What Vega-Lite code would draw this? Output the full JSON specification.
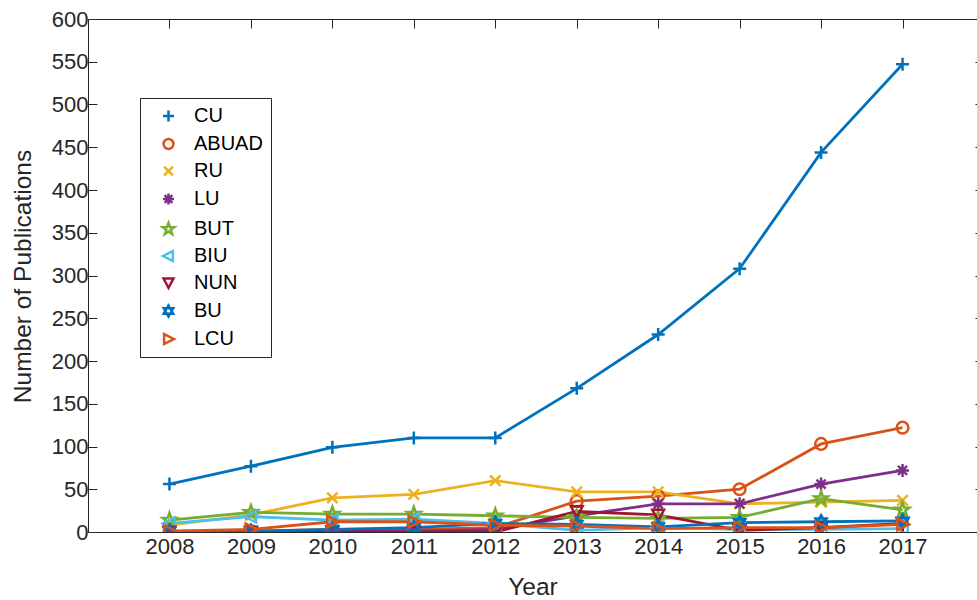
{
  "$schema": "https://vega.github.io/schema/vega-lite/v6.json",
  "autosize": {"type": "none"},
  "padding": {"left": 88, "top": 19, "right": 0, "bottom": 68},
  "width": 889,
  "height": 513,
  "background": "white",
  "config": {
    "view": {"stroke": null},
    "font": "Liberation Sans",
    "axis": {
      "labelFont": "Liberation Sans",
      "titleFont": "Liberation Sans",
      "labelFontSize": 22,
      "titleFontSize": 24.5,
      "titleFontWeight": "normal",
      "labelColor": "#262626",
      "titleColor": "#262626",
      "domainColor": "#262626",
      "tickColor": "#262626",
      "domainWidth": 1,
      "tickWidth": 1,
      "tickSize": -9,
      "grid": false
    },
    "legend": {
      "orient": "none",
      "legendX": 52,
      "legendY": 79,
      "padding": 8,
      "strokeColor": "#262626",
      "fillColor": "white",
      "labelFont": "Liberation Sans",
      "labelFontSize": 20,
      "labelColor": "black",
      "symbolSize": 121,
      "symbolStrokeWidth": 2.5,
      "symbolFillColor": "transparent",
      "symbolOffset": 10.5,
      "labelOffset": 15.5,
      "rowPadding": 7
    }
  },
  "data": {
    "values": [
      {"year": 2008, "series": "CU", "value": 56},
      {"year": 2009, "series": "CU", "value": 77},
      {"year": 2010, "series": "CU", "value": 99},
      {"year": 2011, "series": "CU", "value": 110},
      {"year": 2012, "series": "CU", "value": 110},
      {"year": 2013, "series": "CU", "value": 168},
      {"year": 2014, "series": "CU", "value": 231},
      {"year": 2015, "series": "CU", "value": 308},
      {"year": 2016, "series": "CU", "value": 444},
      {"year": 2017, "series": "CU", "value": 547},
      {"year": 2008, "series": "ABUAD", "value": 0},
      {"year": 2009, "series": "ABUAD", "value": 1},
      {"year": 2010, "series": "ABUAD", "value": 3},
      {"year": 2011, "series": "ABUAD", "value": 3},
      {"year": 2012, "series": "ABUAD", "value": 5},
      {"year": 2013, "series": "ABUAD", "value": 36},
      {"year": 2014, "series": "ABUAD", "value": 42},
      {"year": 2015, "series": "ABUAD", "value": 50},
      {"year": 2016, "series": "ABUAD", "value": 103},
      {"year": 2017, "series": "ABUAD", "value": 122},
      {"year": 2008, "series": "RU", "value": 8},
      {"year": 2009, "series": "RU", "value": 20},
      {"year": 2010, "series": "RU", "value": 40},
      {"year": 2011, "series": "RU", "value": 44},
      {"year": 2012, "series": "RU", "value": 60},
      {"year": 2013, "series": "RU", "value": 47},
      {"year": 2014, "series": "RU", "value": 47},
      {"year": 2015, "series": "RU", "value": 33},
      {"year": 2016, "series": "RU", "value": 35},
      {"year": 2017, "series": "RU", "value": 37},
      {"year": 2008, "series": "LU", "value": 0},
      {"year": 2009, "series": "LU", "value": 0},
      {"year": 2010, "series": "LU", "value": 1},
      {"year": 2011, "series": "LU", "value": 1},
      {"year": 2012, "series": "LU", "value": 3},
      {"year": 2013, "series": "LU", "value": 19},
      {"year": 2014, "series": "LU", "value": 33},
      {"year": 2015, "series": "LU", "value": 33},
      {"year": 2016, "series": "LU", "value": 56},
      {"year": 2017, "series": "LU", "value": 72},
      {"year": 2008, "series": "BUT", "value": 14},
      {"year": 2009, "series": "BUT", "value": 23},
      {"year": 2010, "series": "BUT", "value": 21},
      {"year": 2011, "series": "BUT", "value": 21},
      {"year": 2012, "series": "BUT", "value": 19},
      {"year": 2013, "series": "BUT", "value": 17},
      {"year": 2014, "series": "BUT", "value": 16},
      {"year": 2015, "series": "BUT", "value": 17},
      {"year": 2016, "series": "BUT", "value": 39},
      {"year": 2017, "series": "BUT", "value": 26},
      {"year": 2008, "series": "BIU", "value": 10},
      {"year": 2009, "series": "BIU", "value": 18},
      {"year": 2010, "series": "BIU", "value": 14},
      {"year": 2011, "series": "BIU", "value": 15},
      {"year": 2012, "series": "BIU", "value": 10},
      {"year": 2013, "series": "BIU", "value": 2},
      {"year": 2014, "series": "BIU", "value": 5},
      {"year": 2015, "series": "BIU", "value": 3},
      {"year": 2016, "series": "BIU", "value": 3},
      {"year": 2017, "series": "BIU", "value": 4},
      {"year": 2008, "series": "NUN", "value": 0},
      {"year": 2009, "series": "NUN", "value": 0},
      {"year": 2010, "series": "NUN", "value": 0},
      {"year": 2011, "series": "NUN", "value": 0},
      {"year": 2012, "series": "NUN", "value": 0},
      {"year": 2013, "series": "NUN", "value": 24},
      {"year": 2014, "series": "NUN", "value": 20},
      {"year": 2015, "series": "NUN", "value": 2},
      {"year": 2016, "series": "NUN", "value": 5},
      {"year": 2017, "series": "NUN", "value": 10},
      {"year": 2008, "series": "BU", "value": 1},
      {"year": 2009, "series": "BU", "value": 1},
      {"year": 2010, "series": "BU", "value": 3},
      {"year": 2011, "series": "BU", "value": 5},
      {"year": 2012, "series": "BU", "value": 10},
      {"year": 2013, "series": "BU", "value": 9},
      {"year": 2014, "series": "BU", "value": 6},
      {"year": 2015, "series": "BU", "value": 11},
      {"year": 2016, "series": "BU", "value": 12},
      {"year": 2017, "series": "BU", "value": 13},
      {"year": 2008, "series": "LCU", "value": 1},
      {"year": 2009, "series": "LCU", "value": 3},
      {"year": 2010, "series": "LCU", "value": 12},
      {"year": 2011, "series": "LCU", "value": 12},
      {"year": 2012, "series": "LCU", "value": 8},
      {"year": 2013, "series": "LCU", "value": 7},
      {"year": 2014, "series": "LCU", "value": 4},
      {"year": 2015, "series": "LCU", "value": 5},
      {"year": 2016, "series": "LCU", "value": 5},
      {"year": 2017, "series": "LCU", "value": 9}
    ]
  },
  "resolve": {"axis": {"x": "independent", "y": "independent"}},
  "layer": [
    {
      "mark": {"type": "line", "strokeWidth": 2.8, "clip": true},
      "encoding": {
        "x": {
          "field": "year", "type": "quantitative",
          "scale": {"domain": [2007, 2017.914], "nice": false, "zero": false},
          "axis": {"orient": "bottom", "values": [2008, 2009, 2010, 2011, 2012, 2013, 2014, 2015, 2016, 2017], "format": "d", "labelPadding": 13, "title": "Year", "titleBaseline": "alphabetic", "titleY": 62, "labelFlush": false}
        },
        "y": {
          "field": "value", "type": "quantitative",
          "scale": {"domain": [0, 600], "nice": false},
          "axis": {"orient": "left", "values": [0, 50, 100, 150, 200, 250, 300, 350, 400, 450, 500, 550, 600], "labelPadding": 9, "title": "Number of Publications", "titleBaseline": "alphabetic", "titleX": -58, "titleY": 257, "labelFlush": false}
        },
        "color": {
          "field": "series", "type": "nominal",
          "scale": {"domain": ["CU", "ABUAD", "RU", "LU", "BUT", "BIU", "NUN", "BU", "LCU"], "range": ["#0072BD", "#D95319", "#EDB120", "#7E2F8E", "#77AC30", "#4DBEEE", "#A2142F", "#0072BD", "#D95319"]},
          "legend": {"title": null}
        }
      }
    },
    {
      "mark": {"type": "point", "filled": false, "strokeWidth": 2.5, "size": 169, "opacity": 1, "clip": true},
      "encoding": {
        "x": {
          "field": "year", "type": "quantitative",
          "axis": {"orient": "top", "values": [2008, 2009, 2010, 2011, 2012, 2013, 2014, 2015, 2016, 2017], "labels": false, "title": null}
        },
        "y": {
          "field": "value", "type": "quantitative",
          "axis": {"orient": "right", "offset": 7, "values": [0, 50, 100, 150, 200, 250, 300, 350, 400, 450, 500, 550, 600], "labels": false, "title": null}
        },
        "color": {
          "field": "series", "type": "nominal",
          "legend": {"title": null}
        },
        "shape": {
          "field": "series", "type": "nominal",
          "scale": {
            "domain": ["CU", "ABUAD", "RU", "LU", "BUT", "BIU", "NUN", "BU", "LCU"],
            "range": [
              "M-1,0L1,0M0,-1L0,1",
              "M0.9,0A0.9,0.9 0 1,1 -0.9,0A0.9,0.9 0 1,1 0.9,0",
              "M-0.8,-0.8L0.8,0.8M-0.8,0.8L0.8,-0.8",
              "M-1,0L1,0M0,-1L0,1M-0.7,-0.7L0.7,0.7M-0.7,0.7L0.7,-0.7",
              "M0,-1.1L0.26,-0.36L1.05,-0.34L0.42,0.14L0.65,0.89L0,0.45L-0.65,0.89L-0.42,0.14L-1.05,-0.34L-0.26,-0.36Z",
              "M-1,0L0.8,-0.9L0.8,0.9Z",
              "M-0.9,-0.8L0.9,-0.8L0,0.9Z",
              "M0,-1L0.866,0.5L-0.866,0.5ZM0,1L0.866,-0.5L-0.866,-0.5Z",
              "M1,0L-0.8,-0.9L-0.8,0.9Z"
            ]
          },
          "legend": {"title": null}
        }
      }
    }
  ]
}
